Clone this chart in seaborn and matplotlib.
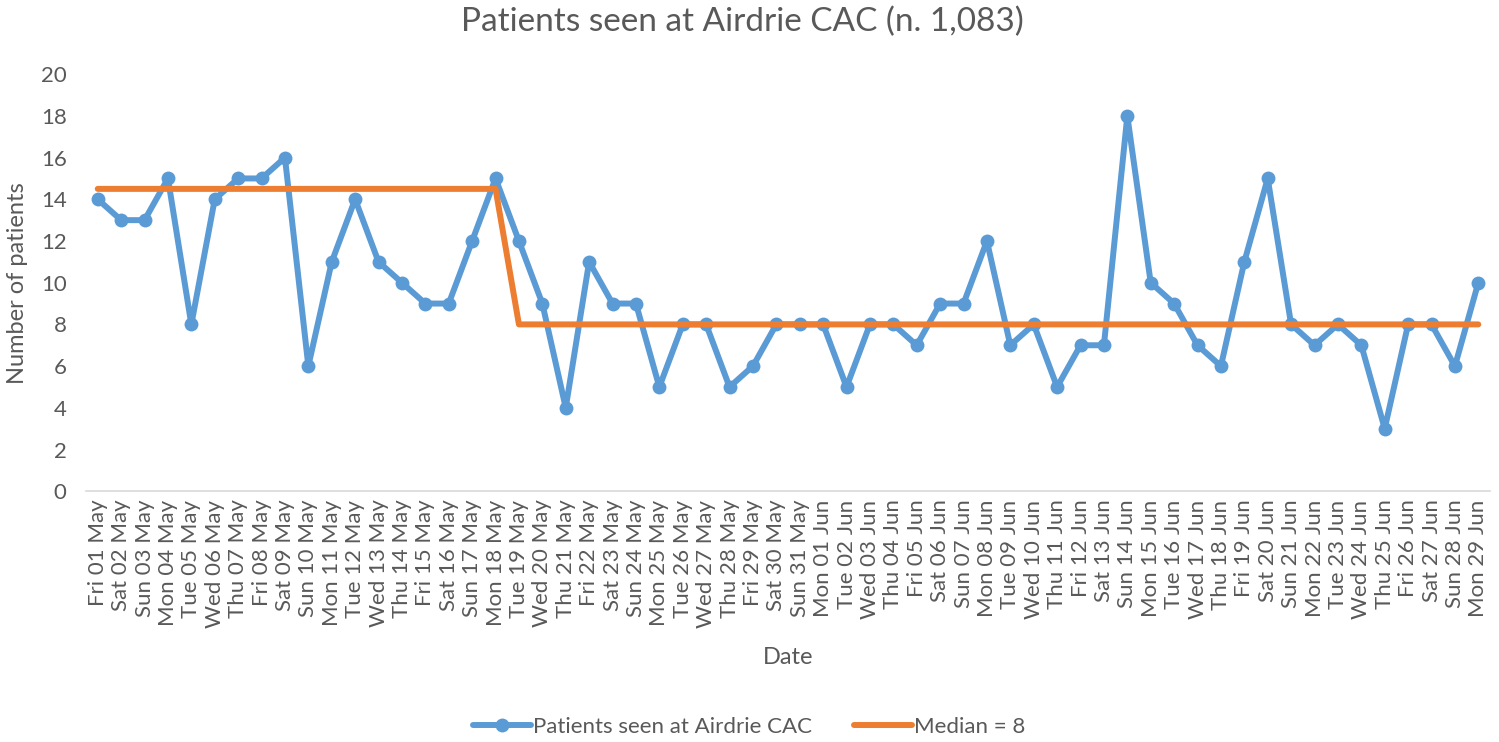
import pandas as pd
import matplotlib
matplotlib.use('Agg')
import matplotlib.pyplot as plt
import seaborn as sns

# Daily patient counts
may_days = ['Fri 01', 'Sat 02', 'Sun 03', 'Mon 04', 'Tue 05', 'Wed 06', 'Thu 07', 'Fri 08',
            'Sat 09', 'Sun 10', 'Mon 11', 'Tue 12', 'Wed 13', 'Thu 14', 'Fri 15', 'Sat 16',
            'Sun 17', 'Mon 18', 'Tue 19', 'Wed 20', 'Thu 21', 'Fri 22', 'Sat 23', 'Sun 24',
            'Mon 25', 'Tue 26', 'Wed 27', 'Thu 28', 'Fri 29', 'Sat 30', 'Sun 31']
jun_days = ['Mon 01', 'Tue 02', 'Wed 03', 'Thu 04', 'Fri 05', 'Sat 06', 'Sun 07', 'Mon 08',
            'Tue 09', 'Wed 10', 'Thu 11', 'Fri 12', 'Sat 13', 'Sun 14', 'Mon 15', 'Tue 16',
            'Wed 17', 'Thu 18', 'Fri 19', 'Sat 20', 'Sun 21', 'Mon 22', 'Tue 23', 'Wed 24',
            'Thu 25', 'Fri 26', 'Sat 27', 'Sun 28', 'Mon 29']
dates = [d + ' May' for d in may_days] + [d + ' Jun' for d in jun_days]

patients = [14, 13, 13, 15, 8, 14, 15, 15, 16, 6, 11, 14, 11, 10, 9, 9, 12, 15,
            12, 9, 4, 11, 9, 9, 5, 8, 8, 5, 6, 8, 8,
            8, 5, 8, 8, 7, 9, 9, 12, 7, 8, 5, 7, 7, 18, 10, 9, 7, 6, 11, 15,
            8, 7, 8, 7, 3, 8, 8, 6, 10]
median = [14.5] * 18 + [8] * 42

df = pd.DataFrame({'date': dates, 'pos': range(len(dates)),
                   'patients': patients, 'median': median})

sns.set_style('white')
plt.rcParams['font.family'] = ['Lato', 'DejaVu Sans']
grey = '#595959'

fig = plt.figure(figsize=(14.99, 7.42), dpi=100)
ax = fig.add_axes([0.0574, 0.338, 0.9366, 0.562])

sns.lineplot(data=df, x='pos', y='patients', ax=ax, color='#5B9BD5', linewidth=4.3,
             marker='o', markersize=10, markeredgewidth=0,
             label='Patients seen at Airdrie CAC')
sns.lineplot(data=df, x='pos', y='median', ax=ax, color='#ED7D31', linewidth=4.3,
             label='Median = 8')

ax.set_xlim(-0.5, len(dates) - 0.5)
ax.set_ylim(0, 20)
ax.set_yticks(range(0, 21, 2))
ax.set_xticks(df['pos'])
ax.set_xticklabels(dates, rotation=90)
ax.tick_params(axis='both', length=0, labelsize=16, colors=grey)
ax.tick_params(axis='x', pad=6)
ax.tick_params(axis='y', pad=14)

for side in ['top', 'right', 'left']:
    ax.spines[side].set_visible(False)
ax.spines['bottom'].set_color('#D9D9D9')
ax.spines['bottom'].set_linewidth(1.2)

fig.suptitle('Patients seen at Airdrie CAC (n. 1,083)', x=0.495, y=1 - 22 / 742,
             va='center', fontsize=24, color=grey)
ax.set_xlabel('Date', fontsize=17, color=grey, va='center')
ax.xaxis.set_label_coords(0.5, -0.398)
ax.set_ylabel('Number of patients', fontsize=17, color=grey, va='center')
ax.yaxis.set_label_coords(-0.049, 0.5)

ax.get_legend().remove()
handles, labels = ax.get_legend_handles_labels()
leg = fig.legend(handles, labels, loc='center', bbox_to_anchor=(0.5, 1 - 727 / 742),
                 ncol=2, frameon=False, fontsize=16, handlelength=2.6,
                 columnspacing=1.9, handletextpad=0.1)
for t in leg.get_texts():
    t.set_color(grey)

fig.savefig('out.png', dpi=100)
